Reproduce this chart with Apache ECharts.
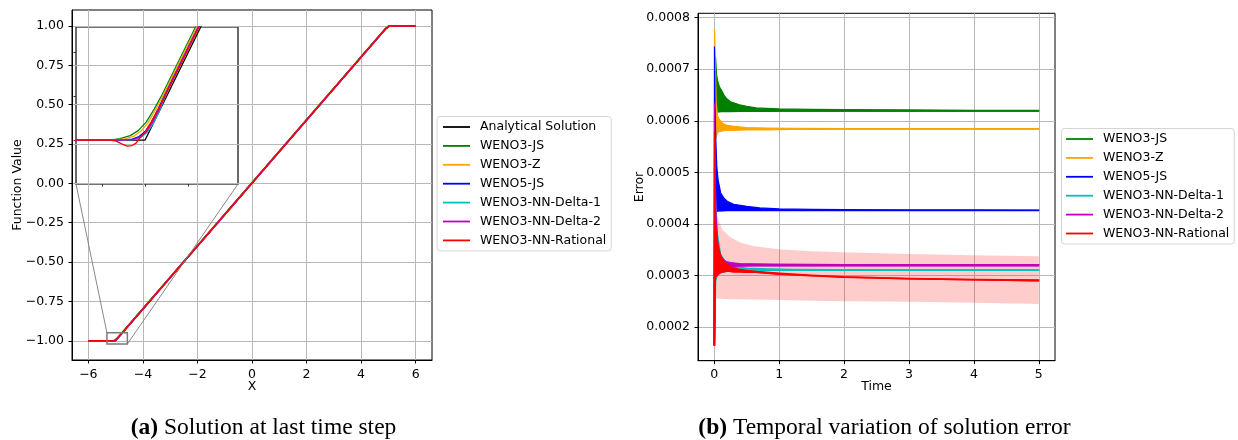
<!DOCTYPE html>
<html>
<head>
<meta charset="utf-8">
<script src="https://cdn.jsdelivr.net/npm/echarts@6/dist/echarts.min.js"></script>
<style>
html, body { margin: 0; padding: 0; background: #fff; }
#chart { width: 1238px; height: 440px; }
</style>
</head>
<body>
<div id="chart"></div>
<script>
// ---------- (a) solution at the last time step: [x, u] samples ----------
const solAnalytical = [[-6, -1], [-5, -1], [5, 1], [6, 1]];
const solWeno3JS = [[-6, -1], [-5.162, -1], [-5.116, -0.99936], [-5.069, -0.99795], [-5.032, -0.99568],
  [-4.995, -0.99181], [-4.958, -0.9859], [-4.921, -0.9793], [-4.5, -0.8954], [4.9, 0.9846], [5.05, 1], [6, 1]];
const solWeno3Z = [[-6, -1], [-5.139, -1], [-5.093, -0.99945], [-5.051, -0.99818], [-5.019, -0.9959],
  [-4.986, -0.99204], [-4.949, -0.98567], [-4.917, -0.97953], [-4.5, -0.8965], [4.9, 0.9835], [5.05, 1], [6, 1]];
const solWeno5JS = [[-6, -1], [-5.106, -1], [-5.06, -0.99955], [-5.028, -0.99841], [-5.0, -0.99613],
  [-4.972, -0.99204], [-4.94, -0.9859], [-4.907, -0.97907], [-4.5, -0.8977], [4.9, 0.9823], [5.05, 1], [6, 1]];
const solDelta1 = [[-6, -1], [-5.097, -1], [-5.051, -0.99968], [-5.019, -0.99873], [-4.991, -0.99659],
  [-4.963, -0.99249], [-4.931, -0.98612], [-4.898, -0.97793], [-4.5, -0.8983], [4.9, 0.9817], [5.05, 1], [6, 1]];
const solDelta2 = [[-6, -1], [-5.102, -1], [-5.056, -0.99964], [-5.023, -0.99864], [-4.995, -0.99636],
  [-4.968, -0.99227], [-4.935, -0.98612], [-4.903, -0.97839], [-4.5, -0.898], [4.9, 0.982], [5.05, 1], [6, 1]];
const solRational = [[-6, -1], [-5.162, -1], [-5.134, -1.00046], [-5.106, -1.00182], [-5.083, -1.00273],
  [-5.06, -1.0025], [-5.042, -1.00137], [-5.023, -0.99886], [-5.0, -0.99636], [-4.972, -0.99181],
  [-4.94, -0.98612], [-4.907, -0.97975], [-4.5, -0.8986], [4.9, 0.9814], [5.05, 1], [6, 1]];

// zoomed window of the inset
const insetXRange = [-5.32, -4.57];
const insetYRange = [-1.02, -0.9485];

const solXTicks = [-6, -4, -2, 0, 2, 4, 6];
const solYTicks = [-1, -0.75, -0.5, -0.25, 0, 0.25, 0.5, 0.75, 1];
const insetXTicks = [-5.2, -5.0, -4.8];
const insetYTicks = [-1.0, -0.98, -0.96];

// ---------- (b) error history: oscillation envelopes over time ----------
const timeWeno3JS  = [0, 0.008, 0.02, 0.035, 0.056, 0.08, 0.108, 0.15, 0.185, 0.25, 0.39, 0.5, 0.647, 0.8, 1.0, 1.5, 2, 3, 4, 5];
const upperWeno3JS = [0.000165, 0.00062, 0.000724, 0.00069, 0.000676, 0.000666, 0.00066, 0.00065, 0.000644, 0.000637, 0.000631, 0.000628, 0.000625, 0.000624, 0.000623, 0.000622, 0.0006215, 0.000621, 0.00062, 0.00062];
const lowerWeno3JS = [0.000165, 0.000165, 0.000617, 0.000617, 0.0006175, 0.0006178, 0.000618, 0.000618, 0.000618, 0.000618, 0.0006185, 0.0006185, 0.0006185, 0.0006185, 0.0006188, 0.0006188, 0.0006188, 0.0006188, 0.0006188, 0.0006188];

const timeWeno3Z  = [0, 0.005, 0.015, 0.03, 0.05, 0.08, 0.13, 0.2, 0.3, 0.5, 0.8, 1.2, 2, 3, 4, 5];
const upperWeno3Z = [0.000165, 0.000778, 0.00072, 0.000634, 0.00061, 0.000602, 0.000595, 0.000591, 0.000589, 0.000587, 0.000586, 0.0005855, 0.000585, 0.000585, 0.0005848, 0.0005847];
const lowerWeno3Z = [0.000165, 0.000165, 0.000568, 0.000568, 0.000578, 0.00058, 0.000581, 0.000582, 0.000582, 0.000583, 0.000583, 0.0005835, 0.000584, 0.000584, 0.000584, 0.000584];

const timeWeno5JS  = [0, 0.004, 0.012, 0.025, 0.04, 0.06, 0.1, 0.15, 0.2, 0.3, 0.5, 0.7, 1.0, 1.5, 2, 3, 4, 5];
const upperWeno5JS = [0.000165, 0.000744, 0.00063, 0.00056, 0.00051, 0.000485, 0.00046, 0.00045, 0.000444, 0.000438, 0.000434, 0.000431, 0.000429, 0.000428, 0.0004275, 0.000427, 0.000427, 0.0004268];
const lowerWeno5JS = [0.000165, 0.000165, 0.00042, 0.000424, 0.000425, 0.0004255, 0.0004255, 0.0004258, 0.000426, 0.000426, 0.000426, 0.000426, 0.000426, 0.000426, 0.000426, 0.000426, 0.000426, 0.000426];

const timeDelta1  = [0, 0.005, 0.02, 0.05, 0.1, 0.2, 0.3, 0.5, 0.8, 1.2, 2, 3, 4, 5];
const upperDelta1 = [0.000165, 0.00057, 0.00045, 0.00038, 0.00034, 0.000322, 0.000317, 0.000314, 0.000313, 0.000312, 0.0003115, 0.000311, 0.000311, 0.000311];
const lowerDelta1 = [0.000165, 0.000165, 0.00029, 0.000302, 0.000306, 0.000308, 0.000309, 0.0003095, 0.00031, 0.00031, 0.00031, 0.0003102, 0.0003102, 0.0003102];

const timeDelta2  = [0, 0.004, 0.015, 0.03, 0.056, 0.08, 0.108, 0.15, 0.185, 0.25, 0.39, 0.6, 0.9, 1.5, 2, 3, 4, 5];
const upperDelta2 = [0.000165, 0.000634, 0.0005, 0.00041, 0.000356, 0.000345, 0.000336, 0.00033, 0.000327, 0.000325, 0.000323, 0.0003225, 0.000322, 0.0003215, 0.000321, 0.000321, 0.000321, 0.000321];
const lowerDelta2 = [0.000165, 0.000165, 0.0003, 0.000308, 0.000313, 0.000315, 0.000316, 0.000317, 0.0003175, 0.000318, 0.0003185, 0.0003188, 0.000319, 0.000319, 0.000319, 0.000319, 0.000319, 0.000319];

const timeRational  = [0, 0.004, 0.012, 0.02, 0.03, 0.056, 0.09, 0.13, 0.185, 0.23, 0.3, 0.39, 0.5, 0.65, 1.0, 1.5, 2, 3, 4, 5];
const upperRational = [0.000165, 0.00058, 0.00045, 0.0004, 0.00039, 0.000362, 0.000343, 0.00033, 0.000324, 0.000318, 0.000315, 0.000312, 0.00031, 0.000308, 0.0003045, 0.0003005, 0.0002975, 0.0002945, 0.0002925, 0.0002915];
const lowerRational = [0.000165, 0.000165, 0.00028, 0.000297, 0.0003, 0.000302, 0.000305, 0.000307, 0.000308, 0.000308, 0.000307, 0.000307, 0.000306, 0.000306, 0.0003025, 0.0002995, 0.0002965, 0.0002935, 0.0002915, 0.0002895];

// spread of the rational-network runs
const timeSpread  = [0.025, 0.04, 0.07, 0.13, 0.25, 0.4, 0.6, 1, 1.5, 2, 3, 4, 5];
const upperSpread = [0.00044, 0.00042, 0.000405, 0.000388, 0.000374, 0.000364, 0.000357, 0.000351, 0.000347, 0.000345, 0.0003415, 0.000339, 0.000337];
const lowerSpread = [0.00026, 0.000255, 0.000255, 0.000255, 0.000254, 0.000254, 0.0002535, 0.0002525, 0.000251, 0.00025, 0.000249, 0.000247, 0.0002445];

const errXTicks = [0, 1, 2, 3, 4, 5];
const errYTicks = [0.0002, 0.0003, 0.0004, 0.0005, 0.0006, 0.0007, 0.0008];

// ---------- styling ----------
const FONT = 'DejaVu Sans';
const SERIF = 'Liberation Serif';
const methods = [
  { name: 'WENO3-JS', color: '#008000', sol: solWeno3JS, t: timeWeno3JS, hi: upperWeno3JS, lo: lowerWeno3JS },
  { name: 'WENO3-Z', color: '#FFA500', sol: solWeno3Z, t: timeWeno3Z, hi: upperWeno3Z, lo: lowerWeno3Z },
  { name: 'WENO5-JS', color: '#0000FF', sol: solWeno5JS, t: timeWeno5JS, hi: upperWeno5JS, lo: lowerWeno5JS },
  { name: 'WENO3-NN-Delta-1', color: '#00BFBF', sol: solDelta1, t: timeDelta1, hi: upperDelta1, lo: lowerDelta1 },
  { name: 'WENO3-NN-Delta-2', color: '#BF00BF', sol: solDelta2, t: timeDelta2, hi: upperDelta2, lo: lowerDelta2 },
  { name: 'WENO3-NN-Rational', color: '#FF0000', sol: solRational, t: timeRational, hi: upperRational, lo: lowerRational }
];

const minus = s => s.replace('-', '\u2212');
const labelStyle = { fontFamily: FONT, fontSize: 12.5, color: '#000' };
const gridLine = { show: true, lineStyle: { color: '#b8b8b8', width: 1 } };

function axis(gridIndex, min, max, ticks, fmt, extra) {
  return Object.assign({
    gridIndex, type: 'value', min, max,
    nameMoveOverlap: false,
    axisLine: { show: true, onZero: false, lineStyle: { color: '#000', width: 1 } },
    axisTick: { show: true, length: 3.5, lineStyle: { color: '#000', width: 1 }, customValues: ticks },
    axisLabel: Object.assign({ customValues: ticks, formatter: fmt }, labelStyle),
    splitLine: gridLine,
    nameTextStyle: labelStyle
  }, extra);
}

function lineSeries(name, data, color, axisIndex, z, width) {
  return {
    type: 'line', name, data, xAxisIndex: axisIndex, yAxisIndex: axisIndex,
    symbol: 'none', showSymbol: false, clip: true, z,
    lineStyle: { color, width }, itemStyle: { color }, emphasis: { disabled: true },
    animation: false
  };
}

// filled envelope between lower (dim 1) and upper (dim 2) values
function bandRenderer(fill, stroke, lineWidth) {
  return function (params, api) {
    if (params.dataIndexInside !== 0) return;
    const n = params.dataInsideLength;
    const pts = [];
    for (let i = 0; i < n; i++) pts.push(api.coord([api.value(0, i), api.value(2, i)]));
    for (let i = n - 1; i >= 0; i--) pts.push(api.coord([api.value(0, i), api.value(1, i)]));
    return {
      type: 'polygon', shape: { points: pts },
      style: { fill, stroke: stroke || null, lineWidth: lineWidth || 0 }
    };
  };
}

function bandSeries(name, t, lo, hi, fill, stroke, lineWidth, z) {
  return {
    type: 'custom', name, xAxisIndex: 1, yAxisIndex: 1, clip: true, silent: true, z,
    data: t.map((v, i) => [v, lo[i], hi[i]]),
    encode: { x: 0, y: [1, 2] },
    renderItem: bandRenderer(fill, stroke, lineWidth),
    animation: false
  };
}

const series = [];
// (a) main panel and inset
series.push(lineSeries('Analytical Solution', solAnalytical, '#000000', 0, 2, 1.3));
series.push(lineSeries('Analytical Solution', solAnalytical, '#000000', 2, 2, 1.3));
methods.forEach((m, k) => {
  series.push(lineSeries(m.name, m.sol, m.color, 0, 3 + k, 1.5));
  series.push(lineSeries(m.name, m.sol, m.color, 2, 3 + k, 1.3));
});
// (b) error history
series.push(bandSeries('Rational spread', timeSpread, lowerSpread, upperSpread, 'rgba(255,0,0,0.2)', null, 0, 1));
methods.forEach((m, k) => {
  series.push(bandSeries(m.name + ' oscillation', m.t, m.lo, m.hi, m.color, m.color, 1.2, 3 + k));
  series.push(lineSeries(m.name, m.t.map((v, i) => [v, m.lo[i]]), m.color, 1, 3 + k, 1.5));
});

const legendBase = {
  orient: 'vertical', icon: 'rect', itemWidth: 27, itemHeight: 1.8, itemGap: 4.9,
  borderColor: '#d4d4d4', borderWidth: 1, borderRadius: 3,
  backgroundColor: 'rgba(255,255,255,0.8)', selectedMode: false,
  textStyle: { fontFamily: FONT, fontSize: 12.5, color: '#000', lineHeight: 14, padding: [0, 0, 0, 5] }
};

const option = {
  animation: false,
  backgroundColor: '#ffffff',
  grid: [
    { left: 72, top: 10, width: 360, height: 350, show: true, borderColor: '#000', borderWidth: 1, outerBoundsMode: 'none' },
    { left: 698, top: 13.3, width: 357, height: 347.4, show: true, borderColor: '#000', borderWidth: 1, outerBoundsMode: 'none' },
    { left: 76, top: 27, width: 162, height: 157, show: true, borderColor: '#444', borderWidth: 1.6, outerBoundsMode: 'none' }
  ],
  xAxis: [
    axis(0, -6.6, 6.6, solXTicks, v => minus(String(v)), { name: 'X', nameLocation: 'middle', nameGap: 20 }),
    axis(1, -0.25, 5.25, errXTicks, v => String(v), { name: 'Time', nameLocation: 'middle', nameGap: 20 }),
    axis(2, insetXRange[0], insetXRange[1], insetXTicks, () => '', {
      axisLine: { show: false }, axisLabel: { show: false }, splitLine: { show: false },
      axisTick: { show: true, length: 2.5, lineStyle: { color: '#333' }, customValues: insetXTicks }
    })
  ],
  yAxis: [
    axis(0, -1.122, 1.101, solYTicks, v => minus(v.toFixed(2)), { name: 'Function Value', nameLocation: 'middle', nameGap: 48 }),
    axis(1, 0.0001346, 0.0008085, errYTicks, v => v.toFixed(4), { name: 'Error', nameLocation: 'middle', nameGap: 52 }),
    axis(2, insetYRange[0], insetYRange[1], insetYTicks, () => '', {
      axisLine: { show: false }, axisLabel: { show: false }, splitLine: { show: false },
      axisTick: { show: true, length: 2.5, lineStyle: { color: '#333' }, customValues: insetYTicks }
    })
  ],
  legend: [
    Object.assign({}, legendBase, {
      left: 437, top: 116.5, padding: [3.5, 5, 3.5, 6],
      data: ['Analytical Solution'].concat(methods.map(m => m.name))
    }),
    Object.assign({}, legendBase, {
      left: 1061.5, top: 128.5, padding: [3.5, 5, 3.5, 4.5],
      data: methods.map(m => m.name)
    })
  ],
  series
};

const chart = echarts.init(document.getElementById('chart'), null, { renderer: 'canvas' });
chart.setOption(option);

// zoom box on the main panel and the two connector lines to the inset
const px = (ai, v) => chart.convertToPixel({ xAxisIndex: ai, yAxisIndex: ai }, v);
const boxBL = px(0, [insetXRange[0], insetYRange[0]]);
const boxTR = px(0, [insetXRange[1], insetYRange[1]]);
const insBL = px(2, [insetXRange[0], insetYRange[0]]);
const insBR = px(2, [insetXRange[1], insetYRange[0]]);
const grey = '#7a7a7a';

chart.setOption({
  graphic: [
    { type: 'rect', z: 20, shape: { x: boxBL[0], y: boxTR[1], width: boxTR[0] - boxBL[0], height: boxBL[1] - boxTR[1] },
      style: { fill: 'none', stroke: grey, lineWidth: 1.5 } },
    { type: 'line', z: 20, shape: { x1: insBL[0], y1: insBL[1], x2: boxBL[0], y2: boxTR[1] },
      style: { stroke: grey, lineWidth: 0.9 } },
    { type: 'line', z: 20, shape: { x1: insBR[0], y1: insBR[1], x2: boxTR[0], y2: boxBL[1] },
      style: { stroke: grey, lineWidth: 0.9 } },
    { type: 'text', z: 20, x: 263.5, y: 428,
      style: { text: '{b|(a)} Solution at last time step', fontFamily: SERIF, fontSize: 23.5, fill: '#000',
        align: 'center', verticalAlign: 'middle',
        rich: { b: { fontFamily: SERIF, fontSize: 23.5, fontWeight: 'bold' } } } },
    { type: 'text', z: 20, x: 884.5, y: 428,
      style: { text: '{b|(b)} Temporal variation of solution error', fontFamily: SERIF, fontSize: 23.5, fill: '#000',
        align: 'center', verticalAlign: 'middle',
        rich: { b: { fontFamily: SERIF, fontSize: 23.5, fontWeight: 'bold' } } } }
  ]
});
</script>
</body>
</html>
